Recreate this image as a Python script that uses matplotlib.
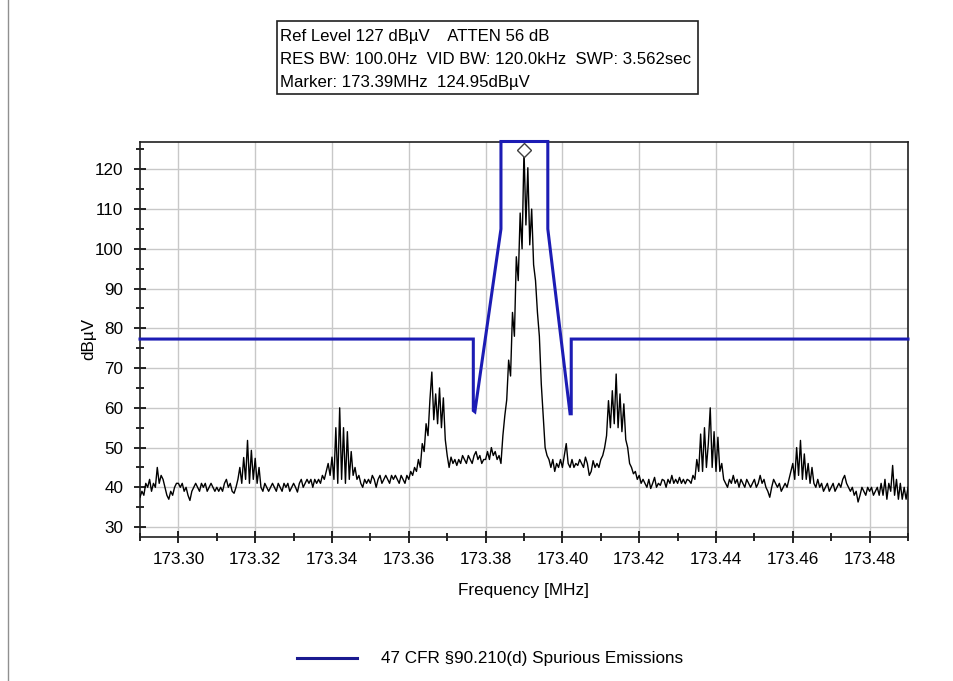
import numpy as np
import matplotlib
matplotlib.use("Agg")
import matplotlib.pyplot as plt
from matplotlib.ticker import MultipleLocator, FormatStrFormatter
from matplotlib.lines import Line2D

plt.rcParams['font.family'] = ['Liberation Sans', 'DejaVu Sans']

# ---- data ----
f_start, f_stop = 173.29, 173.49
trace_dbuv = [
    # 173.29
    37.5, 39, 38, 41, 40, 42, 39, 41, 40, 45, 41, 43, 42, 40, 38, 37, 39, 38, 40, 41,
    # 173.30
    41, 40, 41, 39, 40, 38, 36.7, 39, 40, 41, 40, 39, 41, 40, 41, 39, 40, 41, 40, 39,
    # 173.31
    40, 39, 40, 39, 41, 42, 40, 41, 39, 38.5, 40, 42, 45, 41, 47.5, 42, 51.8, 41, 49.3, 42,
    # 173.32
    47.3, 41, 45, 40, 39, 41, 40, 39, 40, 41, 40, 39, 41, 40, 39, 41, 40, 41, 39, 40,
    # 173.33
    41, 40, 38.8, 41, 42, 40, 41, 42, 41, 42, 40, 42, 41, 42, 41, 43, 42, 44, 46, 43,
    # 173.34
    47.6, 42, 55, 41, 60, 42, 55, 41, 54, 42, 49, 43, 45, 42, 43, 41, 40, 42, 41, 42,
    # 173.35
    41, 43, 42, 40, 42, 43, 41, 42, 43, 42, 41, 43, 42, 43, 42, 41, 43, 42, 41, 43,
    # 173.36
    42, 44, 43, 45, 44, 47, 45, 51, 49, 56, 53, 62, 69, 57, 63.5, 56, 65, 55, 62.5, 52,
    # 173.37
    48, 45, 47.6, 46, 47, 45.5, 47, 46, 48, 47, 46, 48, 47, 46, 48, 49, 47, 48, 46, 47,
    # 173.38
    47, 49, 47, 50, 48, 49, 47, 48, 46, 53, 58, 62, 72, 68, 84, 78, 98, 92, 109, 100,
    # 173.39
    124.95, 106, 120.4, 101, 110, 96, 92, 84, 78, 66, 58, 50, 48, 47, 45, 47, 44, 46, 45, 47,
    # 173.40
    45, 48, 51, 46, 45, 47, 45, 46, 45.5, 47, 46, 45, 47.6, 46, 43, 44, 46.7, 45, 46, 45,
    # 173.41
    47, 48, 50, 53, 61.8, 55, 64.3, 56, 68.5, 55, 63.5, 54, 61, 52, 50, 46, 45, 43.4, 44, 42,
    # 173.42
    43, 41, 42, 41, 40, 42, 39.7, 41, 42.5, 40, 41, 40.5, 42, 41.7, 40, 42, 41, 43, 41, 42,
    # 173.43
    41, 42.5, 41, 42, 40.9, 42, 41.7, 41, 43, 42, 47, 44, 53.4, 44, 55, 45, 51, 60, 45, 54,
    # 173.44
    44, 52.6, 44, 46, 42, 41, 40, 42, 41, 43, 41, 42, 40, 42, 41, 40, 42, 41, 40, 41,
    # 173.45
    42, 40, 41, 43, 41, 42, 40, 39, 37.5, 40, 42, 41, 40, 41, 39, 40, 41, 40, 42, 44,
    # 173.46
    46, 42, 50, 43, 51.8, 42, 48.4, 42, 46, 41, 45, 41, 40, 42, 40, 41, 39, 40, 41, 39,
    # 173.47
    40, 41, 39, 40, 41, 40, 42, 43, 41, 40, 39, 40, 38, 39, 36.3, 38, 40, 39, 38, 40,
    # 173.48
    39, 40, 38, 39, 40, 38, 41, 38, 42, 37, 41, 39, 45.5, 38, 42, 37, 41, 37, 40, 37,
    # 173.49
    40,
]
trace_freq = np.linspace(f_start, f_stop, len(trace_dbuv))

mask_freq = [173.29, 173.3768, 173.3768, 173.3772, 173.3840, 173.3840,
             173.3962, 173.3962, 173.4020, 173.4023, 173.4023, 173.49]
mask_dbuv = [77.3, 77.3, 59.3, 59.0, 105.0, 127.0,
             127.0, 105.0, 58.5, 58.5, 77.3, 77.3]

marker_freq = 173.39
marker_dbuv = 124.95

x_ticks = [173.30, 173.32, 173.34, 173.36, 173.38, 173.40, 173.42, 173.44, 173.46, 173.48]
y_ticks = [30, 40, 50, 60, 70, 80, 90, 100, 110, 120]

info_lines = ["Ref Level 127 dB\u00b5V    ATTEN 56 dB",
              "RES BW: 100.0Hz  VID BW: 120.0kHz  SWP: 3.562sec",
              "Marker: 173.39MHz  124.95dB\u00b5V"]
legend_label = "47 CFR \u00a790.210(d) Spurious Emissions"

# ---- figure ----
W, H = 954, 681
fig = plt.figure(figsize=(W / 100, H / 100), dpi=100)
ax = fig.add_axes([140 / W, 1 - 537 / H, (908 - 140) / W, (537 - 141.5) / H])

FS = 12.3
ax.plot(trace_freq, trace_dbuv, color='black', lw=1.0, zorder=3)
mask_color = '#1c1cb4'
ax.plot(mask_freq, mask_dbuv, color=mask_color, lw=2.2, zorder=4, clip_on=False,
        solid_joinstyle='miter')
ax.plot([marker_freq], [marker_dbuv], marker='D', ms=7, mfc='white', mec='#404040',
        mew=1.0, zorder=5, clip_on=False)

ax.set_xlim(f_start, f_stop)
ax.set_ylim(27.5, 127)
ax.set_xticks(x_ticks)
ax.set_yticks(y_ticks)
ax.xaxis.set_major_formatter(FormatStrFormatter('%.2f'))
ax.xaxis.set_minor_locator(MultipleLocator(0.01))
ax.yaxis.set_minor_locator(MultipleLocator(5))
ax.tick_params(axis='both', which='both', direction='inout', labelsize=FS, width=1.2)
ax.tick_params(axis='both', which='major', length=8)
ax.tick_params(axis='both', which='minor', length=6)
ax.tick_params(axis='x', pad=6.5)
ax.tick_params(axis='y', pad=8)
ax.grid(True, which='major', color='#c8c8c8', lw=1.0, zorder=0)
ax.set_axisbelow(True)
for s in ax.spines.values():
    s.set_color('#202020')
    s.set_linewidth(1.2)

ax.set_xlabel("Frequency [MHz]", fontsize=FS, labelpad=12)
ax.set_ylabel("dB\u00b5V", fontsize=FS, labelpad=-1)

# info box
FS_INFO = 12.1
fig.text(280 / W, 1 - 36 / H, info_lines[0], fontsize=FS_INFO, va='center', ha='left')
fig.text(280 / W, 1 - 59 / H, info_lines[1], fontsize=FS_INFO, va='center', ha='left')
fig.text(280 / W, 1 - 82 / H, info_lines[2], fontsize=FS_INFO, va='center', ha='left')
fig.add_artist(plt.Rectangle((277 / W, 1 - 93.5 / H), (698 - 277) / W, (93.5 - 21) / H,
                             transform=fig.transFigure, fill=False, ec='#202020', lw=1.2))

# legend
handle = Line2D([], [], color='#1a1a90', lw=2.2)
fig.legend([handle], [legend_label], loc='center', bbox_to_anchor=(490 / W, 1 - 659 / H),
           frameon=False, fontsize=FS, handlelength=3.5, handletextpad=1.4)

# outer border line on left
fig.add_artist(Line2D([8 / W, 8 / W], [0, 1], transform=fig.transFigure, color='#909090', lw=1.0))

fig.savefig("out.png", dpi=100)
